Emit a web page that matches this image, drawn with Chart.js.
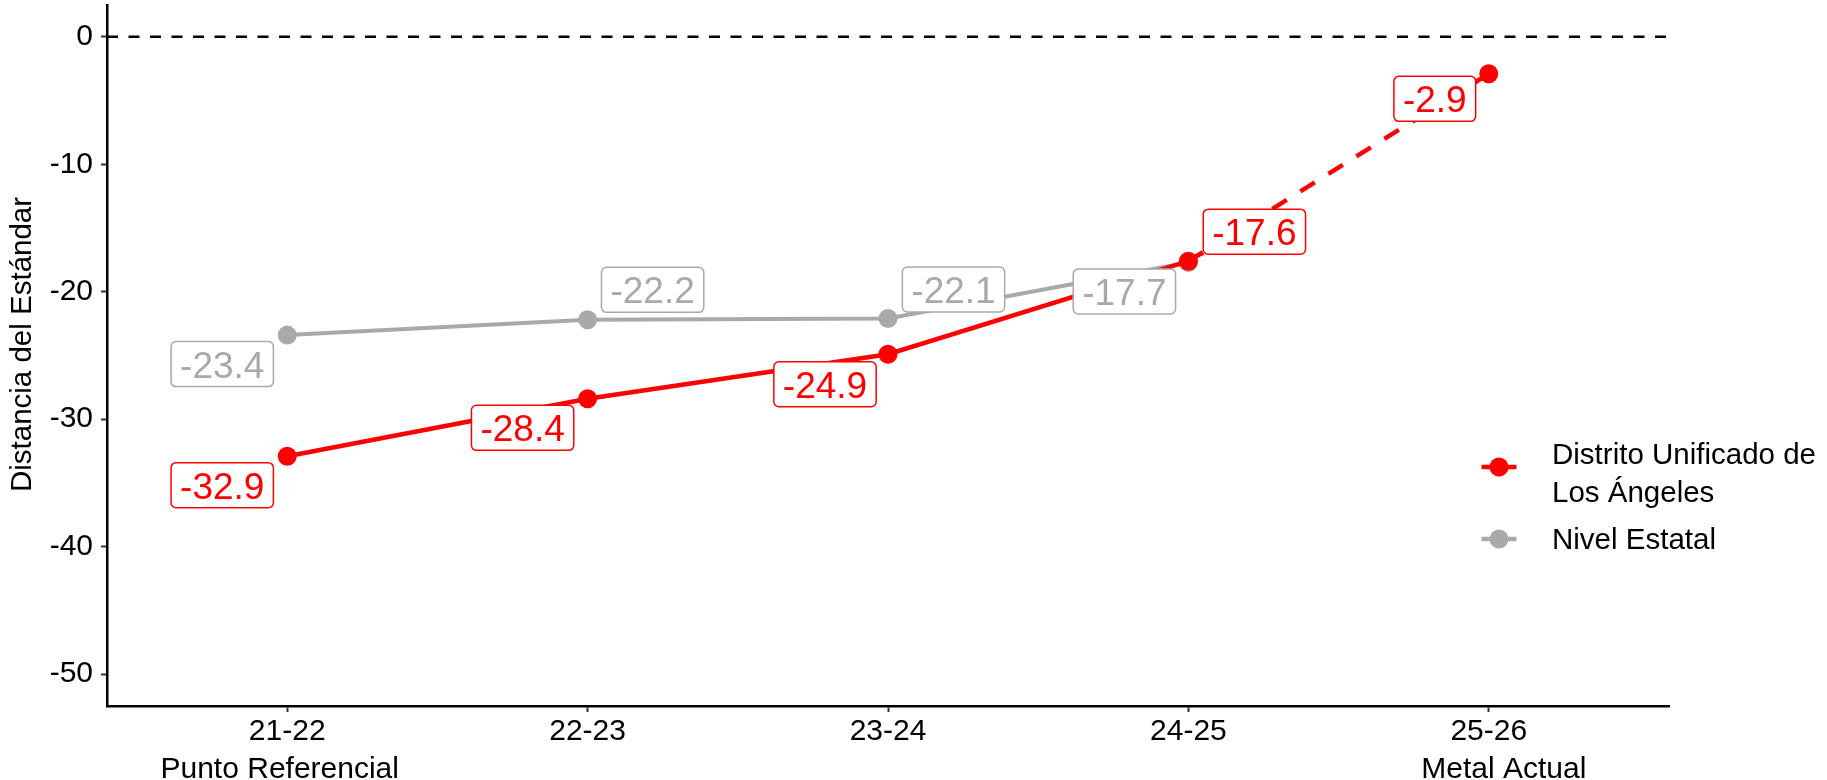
<!DOCTYPE html>
<html>
<head>
<meta charset="utf-8">
<script src="https://cdn.jsdelivr.net/npm/chart.js@4/dist/chart.umd.min.js"></script>
<style>
  html, body { margin: 0; padding: 0; background: #ffffff; }
  #wrap { width: 1827px; height: 780px; }
</style>
</head>
<body>
<div id="wrap"><canvas id="c" width="1827" height="780"></canvas></div>
<script>
// ---- data ----
const categories = ['21-22', '22-23', '23-24', '24-25', '25-26'];
const subLabels = ['Punto Referencial', '', '', '', 'Metal Actual'];
const lausdValues = [-32.9, -28.4, -24.9, -17.6, -2.9];
const stateValues = [-23.4, -22.2, -22.1, -17.7];
const yTicks = [-50, -40, -30, -20, -10, 0];
const seriesNames = ['Distrito Unificado de\nLos Ángeles', 'Nivel Estatal'];
const yTitle = 'Distancia del Estándar';

// ---- styling ----
const FONT = '"Liberation Sans", Arial, Helvetica, sans-serif';
const RED = '#FF0000';
const GRAY = '#A9A9A9';

const toPoints = vals => vals.map((v, i) => ({ x: i + 1, y: v }));

const zeroLinePlugin = {
  id: 'zeroLine',
  beforeDatasetsDraw(chart) {
    const { ctx, chartArea, scales } = chart;
    const y = scales.y.getPixelForValue(0);
    ctx.save();
    ctx.strokeStyle = '#000000';
    ctx.lineWidth = 2.5;
    ctx.setLineDash([11, 10.5]);
    ctx.beginPath();
    ctx.moveTo(chartArea.left, y);
    ctx.lineTo(chartArea.right, y);
    ctx.stroke();
    ctx.restore();
  }
};

// y-axis title drawn beside the axis
const yTitlePlugin = {
  id: 'yTitle',
  afterDraw(chart, args, opts) {
    const ctx = chart.ctx;
    const a = chart.chartArea;
    ctx.save();
    ctx.translate(opts.x, (a.top + a.bottom) / 2 + opts.dy);
    ctx.rotate(-Math.PI / 2);
    ctx.font = '29.5px ' + FONT;
    ctx.fillStyle = '#000000';
    ctx.textAlign = 'center';
    ctx.textBaseline = 'middle';
    ctx.fillText(opts.text, 0, 0);
    ctx.restore();
  }
};

const labelPlugin = {
  id: 'repelLabels',
  afterDatasetsDraw(chart, args, opts) {
    const ctx = chart.ctx;
    ctx.save();
    ctx.font = '37px ' + FONT;
    [1, 0].forEach(di => {
      const meta = chart.getDatasetMeta(di);
      const ds = chart.data.datasets[di];
      const layout = opts.layouts[di];
      const color = ds.borderColor;
      meta.data.forEach((pt, i) => {
        const text = ds.data[i].y.toFixed(1);
        const L = layout[i];
        const cx = pt.x + L.dx, cy = pt.y + L.dy;
        const w = ctx.measureText(text).width + 18, h = 45;
        const x0 = cx - w / 2, y0 = cy - h / 2;
        if (L.seg) {
          const dx = cx - pt.x, dy = cy - pt.y;
          const tx = dx !== 0 ? ((dx > 0 ? x0 : x0 + w) - pt.x) / dx : -Infinity;
          const ty = dy !== 0 ? ((dy > 0 ? y0 : y0 + h) - pt.y) / dy : -Infinity;
          const t = Math.max(tx, ty);
          ctx.strokeStyle = color;
          ctx.lineWidth = 1.5;
          ctx.beginPath();
          ctx.moveTo(pt.x, pt.y);
          ctx.lineTo(pt.x + dx * t, pt.y + dy * t);
          ctx.stroke();
        }
        ctx.beginPath();
        ctx.roundRect(x0, y0, w, h, 5);
        ctx.fillStyle = '#ffffff';
        ctx.fill();
        ctx.strokeStyle = color;
        ctx.lineWidth = 1.5;
        ctx.stroke();
        ctx.fillStyle = color;
        ctx.textAlign = 'center';
        ctx.textBaseline = 'alphabetic';
        ctx.fillText(text, cx, cy + 13.5);
      });
    });
    ctx.restore();
  }
};

const legendPlugin = {
  id: 'customLegend',
  afterDraw(chart, args, opts) {
    const ctx = chart.ctx;
    ctx.save();
    ctx.font = '29.5px ' + FONT;
    ctx.textAlign = 'left';
    ctx.textBaseline = 'alphabetic';
    const items = opts.items;
    chart.data.datasets.forEach((ds, di) => {
      const it = items[di];
      ctx.strokeStyle = ds.borderColor;
      ctx.lineWidth = 4.5;
      ctx.setLineDash([]);
      ctx.beginPath();
      ctx.moveTo(it.x - 17.5, it.y);
      ctx.lineTo(it.x + 17.5, it.y);
      ctx.stroke();
      ctx.fillStyle = ds.borderColor;
      ctx.beginPath();
      ctx.arc(it.x, it.y, 9.5, 0, Math.PI * 2);
      ctx.fill();
      ctx.fillStyle = '#000000';
      const lines = ds.label.split('\n');
      lines.forEach((ln, k) => {
        ctx.fillText(ln, it.tx, it.ty + k * 38);
      });
    });
    ctx.restore();
  }
};

const chart = new Chart(document.getElementById('c'), {
  type: 'line',
  data: {
    datasets: [
      {
        label: seriesNames[0],
        data: toPoints(lausdValues),
        borderColor: RED,
        backgroundColor: RED,
        borderWidth: 4.5,
        pointRadius: 9.5,
        pointHoverRadius: 9.5,
        pointBorderWidth: 0,
        pointBackgroundColor: RED,
        tension: 0,
        clip: false,
        segment: {
          borderDash: c => (c.p0DataIndex === 3 ? [17, 16] : undefined)
        }
      },
      {
        label: seriesNames[1],
        data: toPoints(stateValues),
        borderColor: GRAY,
        backgroundColor: GRAY,
        borderWidth: 4,
        pointRadius: 9.5,
        pointHoverRadius: 9.5,
        pointBorderWidth: 0,
        pointBackgroundColor: GRAY,
        tension: 0,
        clip: false
      }
    ]
  },
  options: {
    responsive: false,
    animation: false,
    devicePixelRatio: 1,
    layout: { autoPadding: false, padding: { left: 0, right: 158, top: 5, bottom: 0 } },
    plugins: {
      legend: { display: false },
      tooltip: { enabled: false },
      yTitle: { text: yTitle, x: 23, dy: -11 },
      repelLabels: {
        layouts: [
          [{ dx: -65, dy: 29 }, { dx: -65, dy: 29 }, { dx: -63, dy: 30 }, { dx: 66, dy: -29.5, seg: true }, { dx: -54, dy: 25, seg: true }],
          [{ dx: -65, dy: 29 }, { dx: 65, dy: -30 }, { dx: 65.5, dy: -29 }, { dx: -64, dy: 29 }]
        ]
      },
      customLegend: {
        items: [
          { x: 1499, y: 467, tx: 1552, ty: 464 },
          { x: 1499, y: 539, tx: 1552, ty: 549 }
        ]
      }
    },
    scales: {
      x: {
        type: 'linear',
        min: 0.4,
        max: 5.6,
        afterBuildTicks: s => { s.ticks = categories.map((_, i) => ({ value: i + 1 })); },
        afterFit: s => { s.height = 74; s.paddingLeft = 0; s.paddingRight = 0; },
        ticks: {
          callback: v => {
            const i = Math.round(v) - 1;
            if (!subLabels[i]) return categories[i];
            // sub-labels sit slightly off-centre in the reference
            const sub = i === 0 ? subLabels[i] + '\u2002' : '\u2002\u2002' + subLabels[i];
            return [categories[i], sub];
          },
          font: { family: FONT, size: 30, lineHeight: 1.25 },
          color: '#000000',
          padding: 1,
          maxRotation: 0,
          autoSkip: false
        },
        grid: { drawOnChartArea: false, drawTicks: true, tickLength: 6, tickColor: '#333333', tickWidth: 2 },
        border: { display: true, color: '#000000', width: 2.5 }
      },
      y: {
        type: 'linear',
        min: -52.5,
        max: 2.5,
        afterBuildTicks: s => { s.ticks = yTicks.map(v => ({ value: v })); },
        afterFit: s => { s.width = 107; s.paddingTop = 0; s.paddingBottom = 0; },
        ticks: {
          callback: v => String(v),
          font: { family: FONT, size: 30, lineHeight: 0.1 },
          color: '#000000',
          padding: 8
        },
        title: { display: false },
        grid: { drawOnChartArea: false, drawTicks: true, tickLength: 6, tickColor: '#333333', tickWidth: 2 },
        border: { display: true, color: '#000000', width: 2.5 }
      }
    }
  },
  plugins: [zeroLinePlugin, labelPlugin, legendPlugin, yTitlePlugin]
});
</script>
</body>
</html>
